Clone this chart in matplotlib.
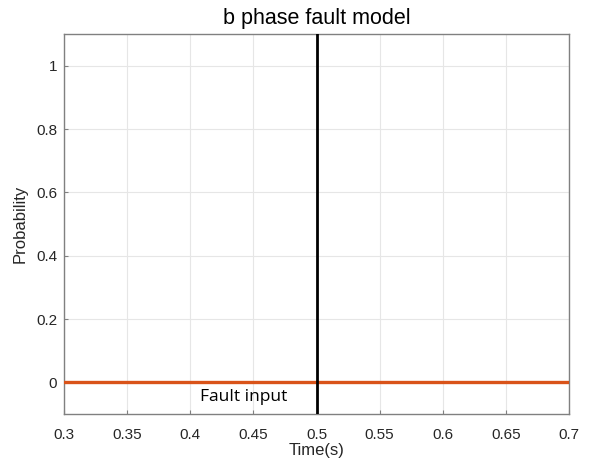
import matplotlib
matplotlib.use("Agg")
import matplotlib.pyplot as plt
import numpy as np

time = [0.3, 0.7]
probability = [0.0, 0.0]
fault_time = 0.5
xticks = [0.3, 0.35, 0.4, 0.45, 0.5, 0.55, 0.6, 0.65, 0.7]
yticks = [0, 0.2, 0.4, 0.6, 0.8, 1]

plt.rcParams['font.family'] = ['Liberation Sans', 'DejaVu Sans']
fig = plt.figure(figsize=(5.89, 4.61), dpi=100)
ax = fig.add_axes([64/589, 1-414/461, (569-64)/589, (414-34)/461])

ax.plot(time, probability, color='#D95319', lw=2.4, zorder=3)
ax.axvline(fault_time, color='black', lw=2, zorder=4)
ax.text(0.442, -0.045, 'Fault input', ha='center', va='center', fontsize=12.5,
        family=['Open Sans', 'DejaVu Sans'])

ax.set_xlim(0.3, 0.7)
ax.set_ylim(-0.1, 1.1)
ax.set_xticks(xticks)
ax.set_xticklabels([f'{t:g}' for t in xticks])
ax.set_yticks(yticks)
ax.set_yticklabels([f'{t:g}' for t in yticks])
ax.grid(True, color='#e6e6e6', lw=0.8)
ax.set_axisbelow(True)
ax.tick_params(direction='in', length=3, color='#808080', labelsize=11, labelcolor='#262626')
ax.tick_params(axis='x', pad=10)
ax.tick_params(axis='y', pad=5)
for s in ax.spines.values():
    s.set_color('#808080')
    s.set_linewidth(1.0)
ax.set_xlabel('Time(s)', fontsize=12, color='#262626', labelpad=1)
ax.set_ylabel('Probability', fontsize=12, color='#262626', labelpad=6)
ax.set_title('b phase fault model', fontsize=15.5, color='black', pad=7)

fig.savefig('out.png', dpi=100)
